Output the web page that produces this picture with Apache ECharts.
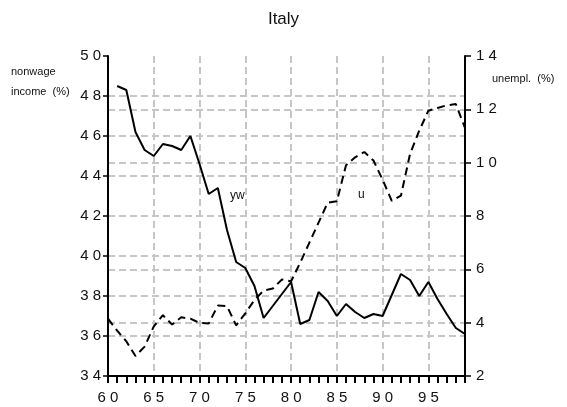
<!DOCTYPE html>
<html lang="en">
<head>
	<meta charset="UTF-8">
	<title>Italy</title>
	<script src="https://cdn.jsdelivr.net/npm/echarts@6/dist/echarts.min.js"></script>
	<style>
		html, body { margin: 0; padding: 0; background: #fff; }
	</style>
</head>
<body>
    <div id="main" style="width: 567px;height:407px;"></div>
    <script type="text/javascript">
    // years
    var ywYears = [1961,1962,1963,1964,1965,1966,1967,1968,1969,1970,1971,1972,1973,1974,1975,1976,1977,1978,1979,1980,
                   1981,1982,1983,1984,1985,1986,1987,1988,1989,1990,1991,1992,1993,1994,1995,1996,1997,1998,1999];
    var uYears = [1960,1961,1962,1963,1964,1965,1966,1967,1968,1969,1970,1971,1972,1973,1974,1975,1976,1977,1978,1979,1980,
                  1981,1982,1983,1984,1985,1986,1987,1988,1989,1990,1991,1992,1993,1994,1995,1996,1997,1998,1999];
    // nonwage income share (%) - left axis
    var ywValues = [48.5,48.3,46.2,45.3,45.0,45.6,45.5,45.3,46.0,44.6,43.1,43.4,41.3,39.7,39.4,38.5,36.9,37.5,38.1,38.7,
                    36.6,36.8,38.2,37.75,37.0,37.6,37.2,36.9,37.1,37.0,38.05,39.1,38.8,38.0,38.7,37.85,37.1,36.4,36.1];
    // unemployment rate (%) - right axis
    var uValues = [4.15,3.7,3.3,2.75,3.1,3.86,4.28,3.93,4.2,4.15,3.99,3.97,4.64,4.62,3.9,4.35,4.85,5.2,5.28,5.62,5.55,
                   6.25,7.0,7.75,8.5,8.55,9.9,10.2,10.4,10.08,9.36,8.57,8.76,10.33,11.2,11.95,12.05,12.15,12.2,11.3];
    // tick labels (spaced digits like the original)
    var xTickLabels = {1960:'6 0',1965:'6 5',1970:'7 0',1975:'7 5',1980:'8 0',1985:'8 5',1990:'9 0',1995:'9 5'};
    var leftTickLabels = {34:'3 4',36:'3 6',38:'3 8',40:'4 0',42:'4 2',44:'4 4',46:'4 6',48:'4 8',50:'5 0'};
    var rightTickLabels = {2:'2',4:'4',6:'6',8:'8',10:'1 0',12:'1 2',14:'1 4'};

    var myChart = echarts.init(document.getElementById('main'));
    var FONT = '"Liberation Sans Narrow", "Liberation Sans", Arial, sans-serif';

    function pairs(xs, ys) {
        var out = [];
        for (var i = 0; i < xs.length; i++) out.push([xs[i], ys[i]]);
        return out;
    }

    var gridLine = {
        show: true,
        showMinLine: false,
        showMaxLine: false,
        lineStyle: { color: '#c6c6c6', width: 2, type: [7, 4] }
    };

    var option = {
        animation: false,
        backgroundColor: '#fff',
        grid: { left: 108, right: 102, top: 56, bottom: 31 },
        xAxis: [{
            type: 'value', min: 1960, max: 1999, interval: 1,
            axisLine: { show: true, lineStyle: { color: '#000', width: 2 } },
            axisTick: { show: true, length: 7, lineStyle: { color: '#000', width: 2 } },
            axisLabel: { show: false },
            splitLine: { show: false }
        }, {
            type: 'value', min: 1960, max: 1999, interval: 5, position: 'bottom',
            axisLine: { show: false },
            axisTick: { show: false },
            axisLabel: {
                margin: 14, fontSize: 15, color: '#111', fontFamily: FONT,
                formatter: function (v) { return xTickLabels[v] || ''; }
            },
            splitLine: gridLine
        }],
        yAxis: [{
            type: 'value', min: 34, max: 50, interval: 2, position: 'left',
            axisLine: { show: true, lineStyle: { color: '#000', width: 2 } },
            axisTick: { show: true, length: 5, lineStyle: { color: '#000', width: 1.5 } },
            axisLabel: {
                margin: 7, fontSize: 15, color: '#111', fontFamily: FONT,
                formatter: function (v) { return leftTickLabels[v] || ''; }
            },
            splitLine: gridLine
        }, {
            type: 'value', min: 2, max: 14, interval: 2, position: 'right',
            axisLine: { show: true, lineStyle: { color: '#000', width: 2 } },
            axisTick: { show: true, length: 6, lineStyle: { color: '#000', width: 1.5 } },
            axisLabel: {
                margin: 11, fontSize: 15, color: '#111', fontFamily: FONT,
                formatter: function (v) { return rightTickLabels[v] || ''; }
            },
            splitLine: gridLine
        }],
        graphic: [
            { type: 'text', left: 'center', top: 11, style: { text: 'Italy', fontSize: 17, fontFamily: FONT, fill: '#111' } },
            { type: 'text', left: 11, top: 62, style: { text: 'nonwage\nincome  (%)', fontSize: 11, lineHeight: 20, fontFamily: FONT, fill: '#111' } },
            { type: 'text', left: 492, top: 73, style: { text: 'unempl.  (%)', fontSize: 11, fontFamily: FONT, fill: '#111' } },
            { type: 'text', left: 230, top: 190, style: { text: 'yw', fontSize: 12, fontFamily: FONT, fill: '#111' } },
            { type: 'text', left: 358, top: 189, style: { text: 'u', fontSize: 12, fontFamily: FONT, fill: '#111' } }
        ],
        series: [{
            name: 'yw', type: 'line', xAxisIndex: 0, yAxisIndex: 0,
            data: pairs(ywYears, ywValues),
            symbol: 'none', silent: true,
            lineStyle: { color: '#000', width: 2 }
        }, {
            name: 'u', type: 'line', xAxisIndex: 0, yAxisIndex: 1,
            data: pairs(uYears, uValues),
            symbol: 'none', silent: true,
            lineStyle: { color: '#000', width: 2, type: [8, 5] }
        }]
    };
    myChart.setOption(option);
    </script>
</body>
</html>
